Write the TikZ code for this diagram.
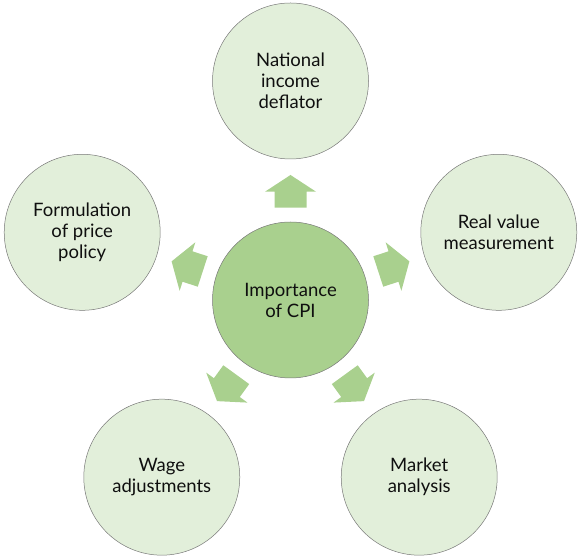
\documentclass[tikz,border=0pt]{standalone}
\usepackage{fontspec}
\setmainfont{Lato}
\usetikzlibrary{calc}
\definecolor{ctrfill}{RGB}{169,208,142}
\definecolor{outfill}{RGB}{226,239,218}
\definecolor{arrfill}{RGB}{169,208,142}
\definecolor{rimc}{RGB}{120,120,120}
\definecolor{txt}{RGB}{15,15,15}
\tikzset{
  bubble/.style={circle, draw=rimc, line width=0.5pt, minimum size=156pt, inner sep=0pt,
    align=center, text=txt, font=\fontsize{18.5}{21}\selectfont},
  hub/.style={bubble, fill=ctrfill},
  leaf/.style={bubble, fill=outfill},
  blockarrow/.style={fill=arrfill, draw=none}
}
\begin{document}
\begin{tikzpicture}[x=1pt,y=1pt]
\useasboundingbox (0,0) rectangle (580,559);
\node[hub] (ctr) at (290.5,259) {Importance\\of CPI};
\node[leaf] (n1) at ($(ctr)+(90:219)$) {National\\income\\deflator};
\node[leaf] (n2) at ($(ctr)+(18:219)$) {Real value\\measurement};
\node[leaf] (n3) at ($(ctr)+(-54:219)$) {Market\\analysis};
\node[leaf] (n4) at ($(ctr)+(-126:219)$) {Wage\\adjustments};
\node[leaf] (n5) at ($(ctr)+(162:219)$) {Formulation\\of price\\policy};
\foreach \a in {90,18,-54,-126,162}{
  \begin{scope}[shift={(ctr.center)}, rotate=\a-90]
    \fill[blockarrow] (-16,92.3) -- (16,92.3) -- (16,108.3) -- (25.5,108.3) -- (0,125)
      -- (-25.5,108.3) -- (-16,108.3) -- cycle;
  \end{scope}
}
\end{tikzpicture}
\end{document}
